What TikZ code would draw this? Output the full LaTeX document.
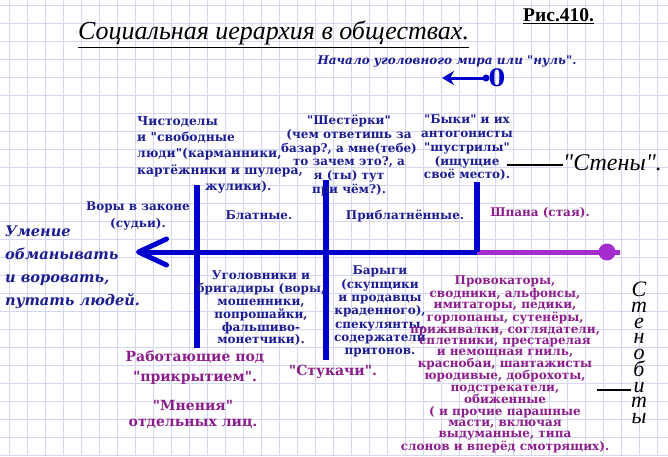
\documentclass[tikz,border=0pt]{standalone}
\usepackage{fontspec}
\setmainfont{DejaVu Serif}[Ligatures=TeXOff]
\newfontfamily\timesfont{Liberation Serif}[Ligatures=TeXOff]
\usetikzlibrary{arrows.meta}
\definecolor{inkblue}{RGB}{28,28,145}
\definecolor{lineblue}{RGB}{0,0,205}
\definecolor{plum}{RGB}{140,30,140}
\definecolor{violetline}{RGB}{165,45,205}
\definecolor{gridlav}{RGB}{212,215,242}
\tikzset{
  ink/.style={inner sep=0pt, text=inkblue, align=center, font=\bfseries\fontsize{12}{13.7}\selectfont},
  inkwide/.style={ink, font=\bfseries\fontsize{12.3}{16.3}\selectfont},
  plumtext/.style={inner sep=0pt, text=plum, align=center, font=\bfseries\fontsize{12}{11.3}\selectfont},
  plumbig/.style={plumtext, font=\bfseries\fontsize{14}{20}\selectfont},
  axisline/.style={line width=5pt, lineblue},
  pole/.style={line width=6pt, lineblue},
  pointer/.style={line width=3pt},
  leader/.style={line width=2.5pt, black},
}
\begin{document}
\begin{tikzpicture}[x=1pt,y=-1pt]
\useasboundingbox (0,0) rectangle (668,456);
% squared paper
\foreach \gx in {9,27,...,668} \draw[gridlav, line width=0.8pt] (\gx,0) -- (\gx,456);
\foreach \gy in {5,23,...,456} \draw[gridlav, line width=0.8pt] (0,\gy) -- (668,\gy);

% heading
\node[anchor=west, inner sep=0pt, font=\timesfont\itshape\fontsize{26}{30}\selectfont] (title) at (78,33) {Социальная иерархия в обществах.};
\draw[line width=1.5pt] ([yshift=-2pt]title.south west) -- ([yshift=-2pt]title.south east);
\node[anchor=west, inner sep=0pt, font=\timesfont\bfseries\fontsize{19.5}{22}\selectfont] (fig) at (523,15) {Рис.410.};
\draw[line width=1.2pt] ([yshift=-1.5pt]fig.south west) -- ([yshift=-1.5pt]fig.south east);

% zero point
\node[inner sep=0pt, text=inkblue, font=\bfseries\itshape\fontsize{12}{14}\selectfont] (start) at (447,61) {Начало уголовного мира или "нуль".};
\node[inner sep=0pt, text=lineblue, font=\bfseries\fontsize{24}{26}\selectfont] (zero) at (497,78) {0};
\coordinate (zerodot) at (486,78);
\coordinate (zerotip) at (442,78);
\fill[lineblue] (zerodot) circle (3.5);
\draw[pointer, lineblue, -{Stealth[length=12pt,width=14pt]}] (zerodot) -- (zerotip);

% the axis
\coordinate (tip) at (136,252);
\coordinate (split) at (477,252);
\coordinate (end) at (620,252);
\coordinate (dot) at (607,252);
\draw[axisline, -{Straight Barb[length=28pt,width=26pt,line width=5pt,round]}] (split) -- (tip);
\draw[line width=5pt, violetline] (split) -- (end);
\fill[violetline] (dot) circle (8.5);

% the poles
\coordinate (pole1top) at (197,185);
\coordinate (pole1bot) at (197,348);
\coordinate (pole2top) at (326,180);
\coordinate (pole2bot) at (326,360);
\coordinate (pole3top) at (477,182);
\draw[pole] (pole1top) -- (pole1bot);
\draw[pole] (pole2top) -- (pole2bot);
\draw[pole] (pole3top) -- (split);

% above the axis
\node[inkwide, anchor=north west, align=left] (clean) at (137,116) {Чистоделы\\и "свободные\\люди"(карманники,\\картёжники и шулера,\\\hspace*{68pt}жулики).};
\node[ink, anchor=north] (sixers) at (349,115) {"Шестёрки"\\(чем ответишь за\\базар?, а мне(тебе)\\то зачем это?, а\\я (ты) тут\\при чём?).};
\node[ink, anchor=north] (bulls) at (467,115) {"Быки" и их\\антогонисты\\"шустрилы"\\(ищущие\\своё место).};
\node[anchor=west, inner sep=0pt, font=\timesfont\itshape\fontsize{24}{26}\selectfont] (walls) at (563,163) {"Стены".};
\coordinate (wallslead) at (507,165);
\draw[leader] (wallslead) -- (wallslead -| walls.west);

\node[ink, font=\bfseries\fontsize{12}{17}\selectfont] (thieves) at (138,216) {Воры в законе\\(судьи).};
\node[ink] (blatnye) at (259,215) {Блатные.};
\node[ink] (priblat) at (405,216) {Приблатнённые.};
\node[plumtext] (shpana) at (540,213) {Шпана (стая).};

\node[inner sep=0pt, anchor=north west, align=left, text=inkblue, font=\bfseries\itshape\fontsize{14.6}{23}\selectfont] (skill) at (5,226) {Умение\\обманывать\\и воровать,\\путать людей.};

% below the axis
\node[ink, anchor=north, font=\bfseries\fontsize{12}{12.8}\selectfont] (crooks) at (261,271) {Уголовники и\\бригадиры (воры,\\мошенники,\\попрошайки,\\фальшиво-\\монетчики).};
\node[ink, anchor=north, font=\bfseries\fontsize{12}{13.3}\selectfont] (fences) at (380,266) {Барыги\\(скупщики\\и продавцы\\краденного),\\спекулянты,\\содержатели\\притонов.};
\node[plumtext, anchor=north] (provoc) at (505,276) {Провокаторы,\\сводники, альфонсы,\\имитаторы, педики,\\горлопаны, сутенёры,\\приживалки, соглядатели,\\сплетники, престарелая\\и немощная гниль,\\краснобаи, шантажисты\\юродивые, доброхоты,\\подстрекатели,\\обиженные\\( и прочие парашные\\масти, включая\\выдуманные, типа\\слонов и вперёд смотрящих).};
\node[plumbig, anchor=north] (cover) at (195,350) {Работающие под\\"прикрытием".};
\node[plumbig, anchor=north, font=\bfseries\fontsize{14}{16}\selectfont] (opinions) at (193,400) {"Мнения"\\отдельных лиц.};
\node[plumbig] (snitches) at (333,372) {"Стукачи".};

\node[inner sep=0pt, anchor=north, align=center, font=\timesfont\itshape\fontsize{22}{15.7}\selectfont] (rams) at (639,282) {С\\т\\е\\н\\о\\б\\и\\т\\ы};
\coordinate (ramslead) at (597,390);
\draw[leader] (ramslead) -- (ramslead -| rams.west);
\end{tikzpicture}
\end{document}
